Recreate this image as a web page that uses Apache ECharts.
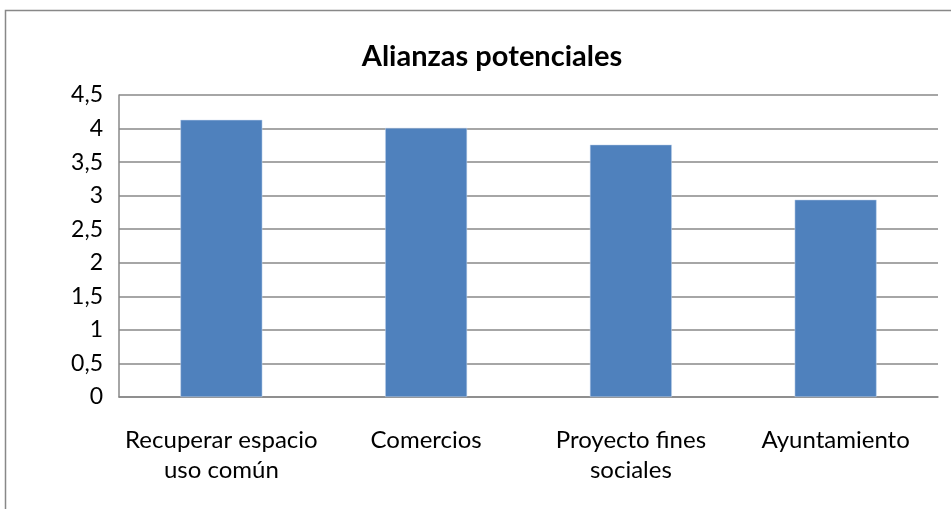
<!DOCTYPE html>
<html>
<head>
<meta charset="utf-8">
<script src="https://cdn.jsdelivr.net/npm/echarts@6/dist/echarts.min.js"></script>
<style>
  html, body { margin: 0; padding: 0; background: #fff; }
  #chart { width: 951px; height: 509px; }
</style>
</head>
<body>
<div id="chart"></div>
<script>
  // datos
  const categories = ['Recuperar espacio\nuso común', 'Comercios', 'Proyecto fines\nsociales', 'Ayuntamiento'];
  const values = [4.13, 4.01, 3.76, 2.94];
  const titleText = 'Alianzas potenciales';

  const chart = echarts.init(document.getElementById('chart'));

  chart.setOption({
    animation: false,
    textStyle: { fontFamily: 'Lato' },
    title: {
      text: titleText,
      left: 487,
      top: 37,
      textAlign: 'center',
      textStyle: { fontSize: 29, fontWeight: 'bold', color: '#000', fontFamily: 'Lato' }
    },
    graphic: [{
      type: 'rect',
      shape: { x: 5.5, y: 10.5, width: 960, height: 520 },
      style: { fill: 'none', stroke: '#888', lineWidth: 1.5 },
      silent: true
    }],
    grid: { left: 119, right: 13, top: 95, bottom: 112 },
    xAxis: {
      type: 'category',
      data: categories,
      axisLine: { show: true, lineStyle: { color: '#888', width: 1.5 } },
      axisTick: { show: false },
      axisLabel: {
        color: '#000',
        fontSize: 24,
        margin: 28,
        lineHeight: 30,
        interval: 0
      }
    },
    yAxis: {
      type: 'value',
      min: 0,
      max: 4.5,
      interval: 0.5,
      axisLine: { show: true, lineStyle: { color: '#888', width: 1.5 } },
      axisTick: { show: false },
      axisLabel: {
        color: '#000',
        fontSize: 23,
        margin: 16,
        formatter: function (v) { return String(v).replace('.', ','); }
      },
      splitLine: { show: true, lineStyle: { color: '#888', width: 1.5 } }
    },
    series: [{
      type: 'bar',
      data: values,
      barWidth: '40%',
      itemStyle: { color: '#4F81BD', borderColor: '#c9d9ee', borderWidth: 0.5 }
    }]
  });
</script>
</body>
</html>
